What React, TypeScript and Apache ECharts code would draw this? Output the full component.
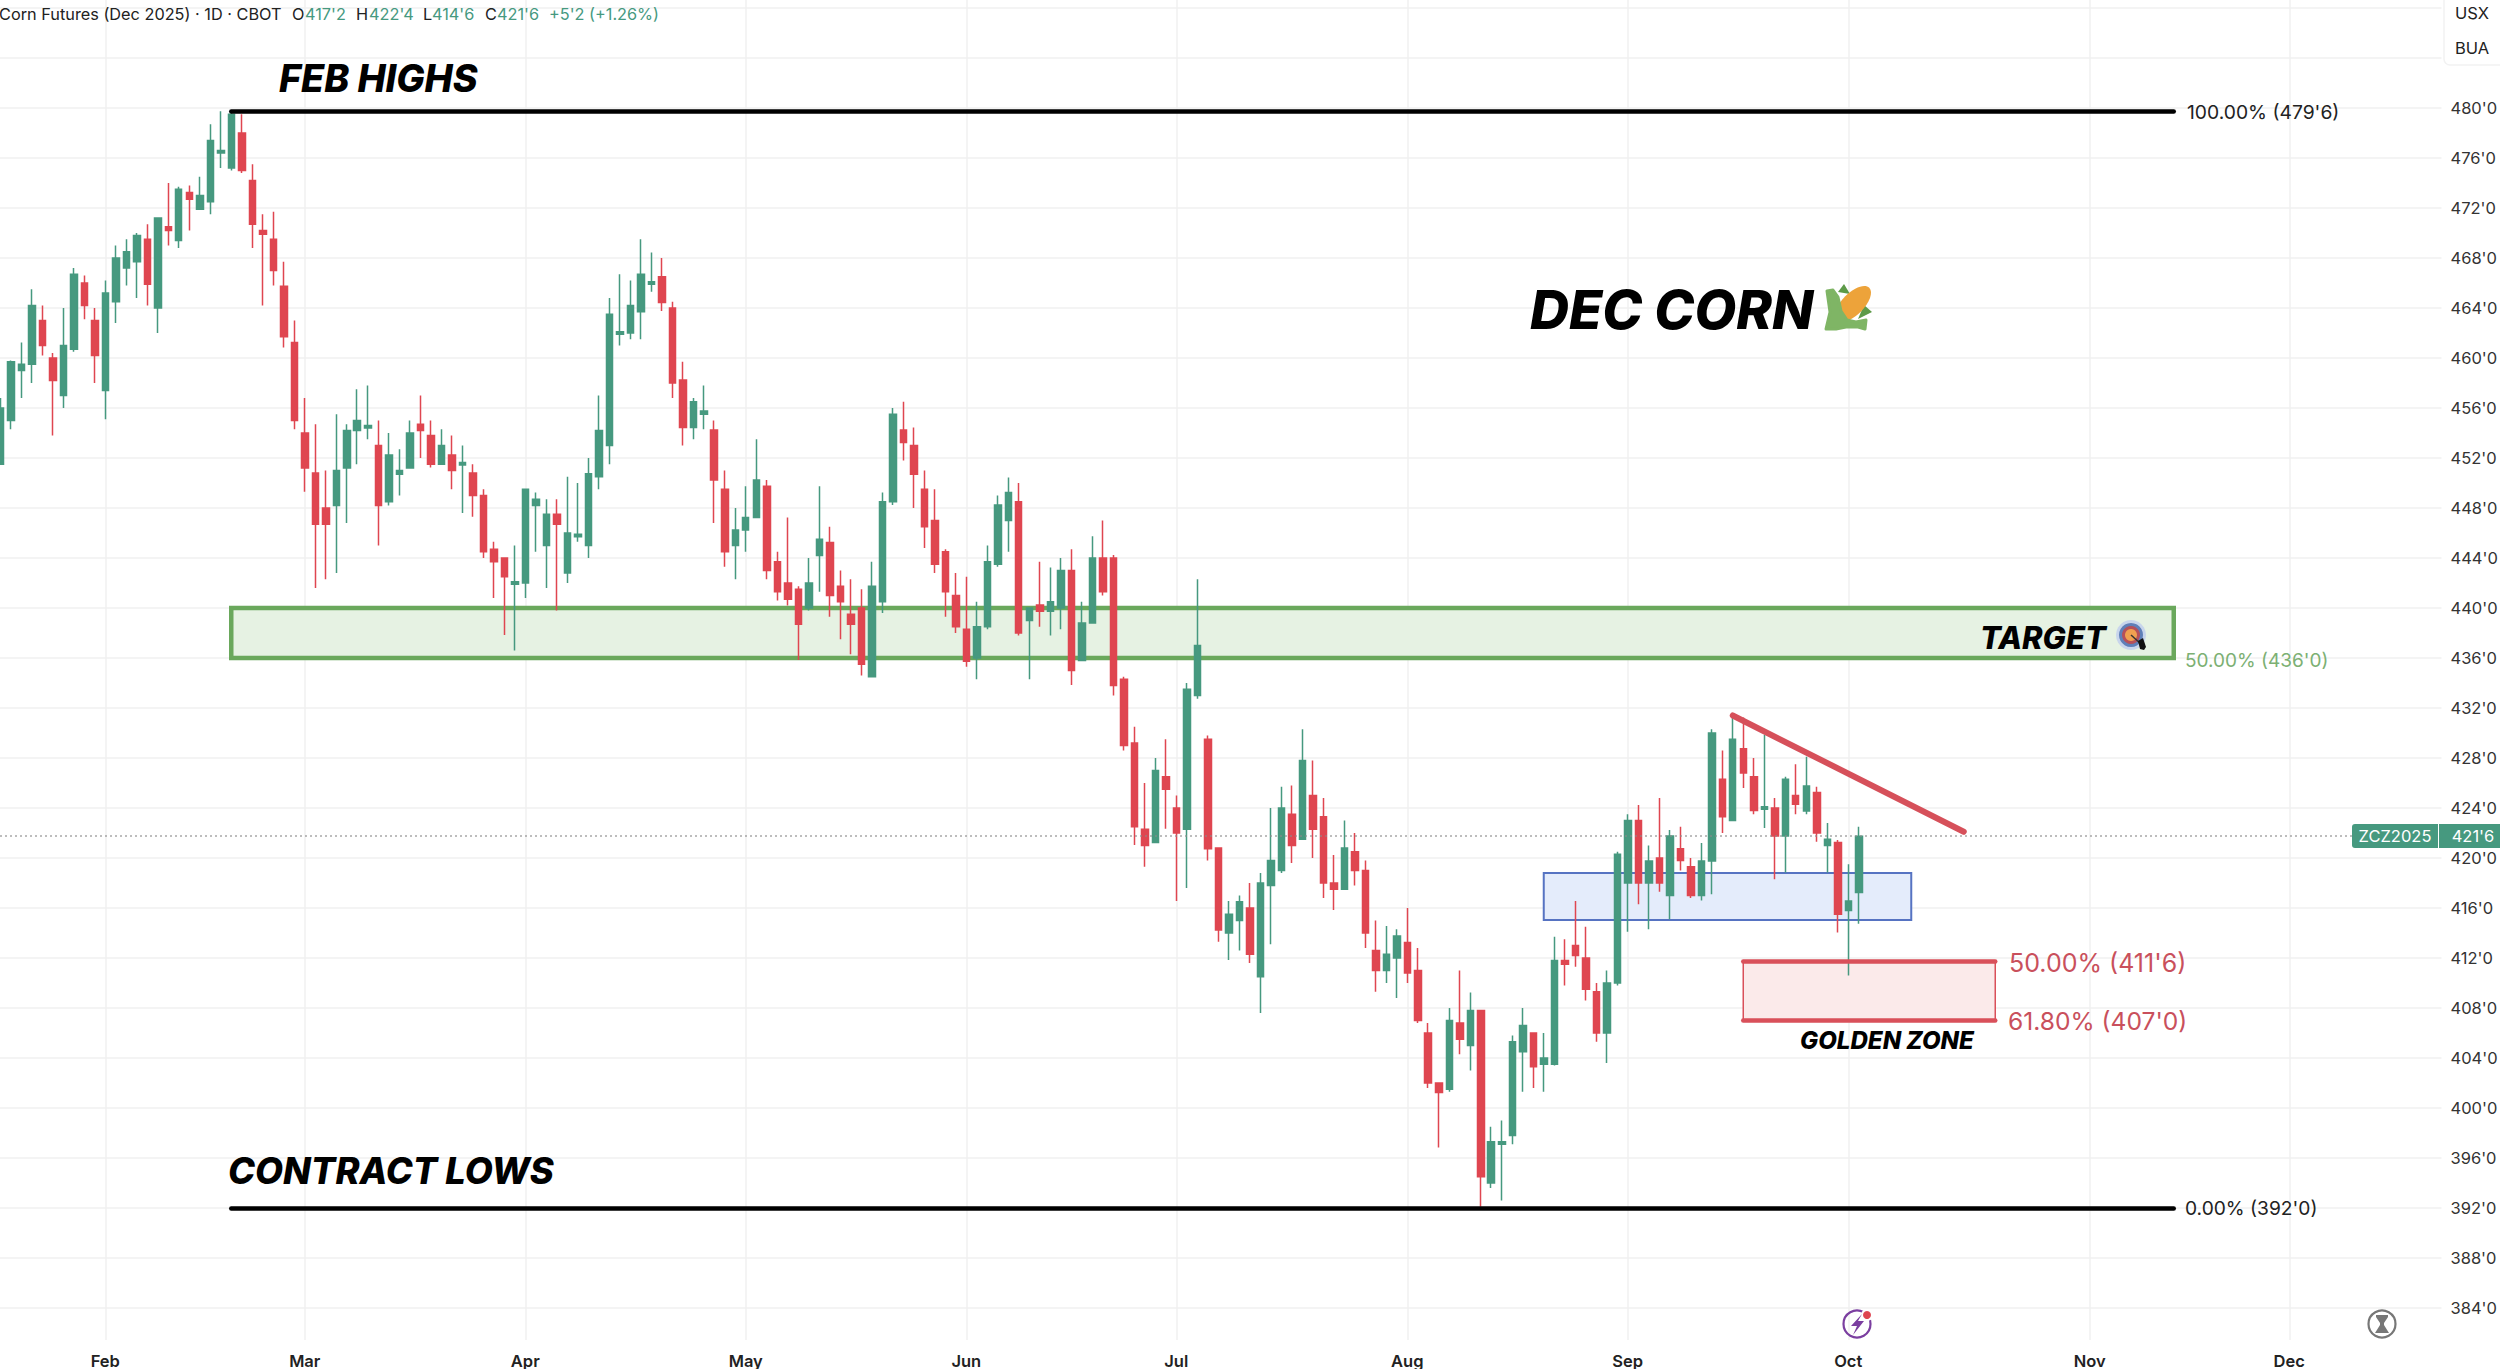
import React, { useEffect, useRef } from "react";
import * as echarts from "echarts";

// Sessions shown per month (Jan is only partly visible)
const monthSessions: [string, number][] = [
  ["Jan", 10], ["Feb", 19], ["Mar", 21], ["Apr", 21], ["May", 21], ["Jun", 20],
  ["Jul", 22], ["Aug", 21], ["Sep", 21], ["Oct", 23], ["Nov", 19], ["Dec", 15],
];
const categories: string[] = monthSessions.flatMap(([m, n]) =>
  Array.from({ length: n }, (_, i) => `${m} ${i + 1}`)
);
const monthStarts = ["Feb 1", "Mar 1", "Apr 1", "May 1", "Jun 1", "Jul 1", "Aug 1", "Sep 1", "Oct 1", "Nov 1", "Dec 1"];

const opens = [
  451.5,455,459,459.5,463,460,457,460.7,466,463,
  457.4,464.5,467.2,467.7,469.5,464,470.5,469.4,473.25,471.9,
  472.5,476.4,475.2,478,474.2,470.2,469.5,465.75,461.25,454,
  450.8,448,448.2,451.2,454.2,454.4,453,448.5,450.7,451.2,
  454.7,453.8,451.5,452.24,451.45,450.8,449,444.7,444,441.9,
  442,448.2,445,447.5,442.8,445.7,445,450.5,453,461.9,
  462,463.7,465.9,466.5,464,458.24,454.45,455.5,454.24,449.5,
  445,446.24,447.24,449.75,443.7,442,441.5,440,444.2,445.25,
  441.75,439.5,440,434.5,440.5,448.5,454.24,453,449.5,447,
  444.5,441,438.3,436,438.5,443.5,447,448.5,439,440.24,
  439.75,440,443,435.8,438.8,444,444,434.3,429.2,422.3,
  421.25,426.5,424,422.3,433,429.5,420.8,414,415,416,
  410.5,417.8,419,423.5,421.5,425,423.3,418,417.5,420.5,
  419,412.6,411,412,413.25,411,406,402,401.5,406.8,
  405,407.8,394,397.1,397.8,404.5,406,403.5,403.5,411.8,
  413,412,409.3,406,410,418,423,418,420,417,
  420.75,419.3,417,419.76,426.3,423,428.75,426.5,423.9,424,
  421.76,425,423.76,425.25,421,421.25,415.8,417.25,
];
const closes = [
  456,459.7,459.5,464.2,461,458.2,461,466.7,464.2,460.2,
  465.2,468,468.5,469.8,465.9,471.2,470.2,473.5,472.7,473,
  477.4,476.6,479.5,475,470.7,469.9,467,461.7,455,451.2,
  446.7,446.7,451,454.2,455,454.6,448.2,452.24,451,454,
  454.2,451.5,453,451,451.65,449,444.5,443.7,442.5,442.1,
  449.5,448.7,447.5,446.7,446,445.9,450.75,454.2,463.5,462.1,
  464.2,466.7,466.1,464.45,458,454.45,456.5,455.76,450.24,444.5,
  446.24,447.24,450.24,443,441.3,440.7,438.7,442,445.5,441,
  440.5,438.7,435.5,441.75,448.5,455.5,453.25,450.7,446.5,443.5,
  441.3,438.5,435.75,438.5,443.7,448.24,449.25,438,440,439.75,
  440.5,443,435,438.8,444,441.3,433.8,429,422.5,421,
  427,425.5,422,433.5,437,420.75,414.24,415.5,416.5,412.3,
  418,419.8,424,421,427.8,422.3,418,417.5,420.8,419,
  414,411,412.3,413.76,410.8,407,402,401.25,407,405.5,
  407.8,394.5,397.3,397.3,405.3,406.6,403.3,404,411.8,411.5,
  412.2,409.5,406,410,420.3,423,418,419.76,418,421.76,
  419.8,417,419.76,430,423.3,429.5,426.8,423.8,424.1,421.76,
  426.3,424.3,425.76,422,421.5,415.5,416.56,421.75,
];
const lows = [
  451.5,454.3,456.8,458,460.2,453.8,456,460.5,463.1,458,
  455.1,462.8,465.8,464.8,464.2,462,469,468.8,470.2,471.9,
  471.5,475.2,475,474.8,468.8,464.2,465.8,460.85,454.3,449.3,
  441.6,442.3,442.8,446.8,451.5,453.5,445,448.2,449,451.2,
  452,451.25,451.5,449.5,447.6,447.3,444,440.8,437.84,436.6,
  440.8,444.5,441.6,439.8,442,445.3,444,449.5,451.5,461,
  461.5,461.5,465.3,463.76,456.8,453,453.5,454.3,446.8,443.3,
  442.3,444.5,447.24,442.3,440.6,440.2,435.84,439.8,441.3,439.3,
  437.5,436.3,434.6,434.5,439.6,448.24,451.8,448,444.8,442.8,
  439.3,438,435.3,434.3,438.3,443.3,444.5,437.8,434.3,438.5,
  437.8,438.3,433.84,435.8,438.8,441,433,428.6,421.04,419.3,
  421.25,422.35,416.56,417.6,432.75,419.8,413.3,411.84,412.6,411.6,
  407.6,413.1,418.8,419.6,421.5,420,416.8,415.84,417.5,417.8,
  412.8,409.3,410,408.8,410,406.8,401.6,396.85,401.3,404.3,
  403,392.1,393.6,392.6,397.1,401.3,401.6,401.3,403.4,409.8,
  411.3,408.6,405.3,403.6,409.8,414.1,416.3,414.3,417.3,415.1,
  419,416.8,416.6,417.1,422,423,425.6,423.5,422.4,418.3,
  418.85,423.5,423.5,421.3,418.85,414.05,410.6,414.75,
];
const highs = [
  456.8,459.8,461.25,465.5,464.2,460.4,464,467.2,466.6,464,
  466.2,469,469.5,470,470.7,471.2,474,473.7,473.8,474.5,
  478.7,479.75,479.75,479.5,475.5,471.5,471.7,467.7,463,456.8,
  454.7,451,455.5,454.7,457.5,457.8,455,454,452.7,455,
  457,455,454.3,453.8,453,451.5,449.5,445.3,444,445,
  449.5,449.25,448.7,448.7,450.5,450,452,457,464.8,466.7,
  466.2,469.5,468.45,468,464.5,459.7,456.8,457.8,455,451,
  448,449.75,453.5,450.24,444.5,447.25,441.75,444,449.75,446.5,
  443,442.3,441.5,443.7,449.25,456,456.5,454.45,451,449.5,
  444.7,442.8,442.5,440.5,445,449,450.45,450,440,443.7,
  443.25,444,444.7,440.5,445.75,447,444.24,434.5,430.5,426,
  428,429.5,425,434,442.3,429.8,420.8,416.56,417,418,
  418.8,424,425.7,425.8,430.3,427.8,424.8,420.24,423,422,
  419.8,415,414.56,414.3,416,412.8,406.8,402,408,411,
  409.25,407.8,398.5,399,405.8,408,406,406,413.7,413.5,
  416.56,414.5,410,411,420.5,423.5,424.24,421,424.8,422.24,
  422.5,420,421.2,430.3,428.6,431.4,431.25,428,429.84,424.8,
  426.5,427.5,428.1,425.7,422.8,421.44,419.5,422.5,
];

const feb100 = 479.75;
const contractLow = 392;
const targetTop = 440;
const targetBottom = 436;
const blueTop = 418.8;
const blueBottom = 415.05;
const goldenTop = 411.75;
const goldenBottom = 407;
const lastPrice = 421.75;
const trendStart = 431.4;
const trendEnd = 422.1;

const GREEN = "#46997f";
const RED = "#df4650";
const FONT = "Inter, 'Noto Sans', sans-serif";

const txt = (text: string, x: number, y: number, fontSize: number, fill: string, extra: any = {}) => ({
  type: "text",
  x,
  y,
  z: 50,
  silent: true,
  style: {
    text,
    fill,
    fontFamily: FONT,
    fontSize,
    fontWeight: extra.weight || 400,
    fontStyle: extra.italic ? "italic" : "normal",
    textAlign: extra.align || "left",
    textVerticalAlign: "middle",
  },
});
const poly = (points: number[][], fill: string, rounded = false) => ({
  type: "polygon",
  z: 50,
  silent: true,
  shape: { points },
  style: rounded ? { fill, stroke: fill, lineWidth: 3, lineJoin: "round" } : { fill },
});
const circ = (cx: number, cy: number, r: number, style: any) => ({
  type: "circle",
  z: 50,
  silent: true,
  shape: { cx, cy, r },
  style,
});

const headerTexts: [string, number, string][] = [
  ["Corn Futures (Dec 2025) · 1D · CBOT", -1, "#222222"],
  ["O", 292, "#222222"], ["417'2", 305, GREEN],
  ["H", 356, "#222222"], ["422'4", 369, GREEN],
  ["L", 423, "#222222"], ["414'6", 432, GREEN],
  ["C", 485, "#222222"], ["421'6", 497, GREEN],
  ["+5'2 (+1.26%)", 549, GREEN],
];

export default function App() {
  const ref = useRef<HTMLDivElement>(null);
  useEffect(() => {
    const chart = echarts.init(ref.current!, undefined, { renderer: "svg" });
    const candleData = opens.map((o, i) => [o, closes[i], lows[i], highs[i]]);
    const bandWidth = 10.5;
    const gridLeft = -5;
    const gridWidth = bandWidth * categories.length;

    const lineStyle = (color: string, width: number, cap = "butt") => ({
      color, width, type: "solid", cap, opacity: 1,
    });
    const hLine = (from: number, to: number, v: number, color: string, width: number) => [
      { xAxis: from, yAxis: v, lineStyle: lineStyle(color, width, "round") },
      { xAxis: to, yAxis: v },
    ];

    chart.setOption({
      animation: false,
      backgroundColor: "#ffffff",
      textStyle: { fontFamily: FONT },
      grid: [
        { left: gridLeft, width: gridWidth, top: 8, height: 1300, outerBoundsMode: "none" },
        { left: gridLeft, width: gridWidth, top: 0, height: 1340, outerBoundsMode: "none" },
      ],
      xAxis: [
        { type: "category", gridIndex: 0, data: categories, show: false },
        {
          type: "category",
          gridIndex: 1,
          data: categories,
          axisLine: { show: false },
          axisTick: { show: false },
          splitLine: { show: false },
          axisLabel: {
            show: true,
            margin: 12,
            fontSize: 16.5,
            fontWeight: 600,
            color: "#222222",
            fontFamily: FONT,
            interval: (_i: number, v: string) => monthStarts.includes(v),
            formatter: (v: string) => v.split(" ")[0],
          },
        },
      ],
      yAxis: [
        {
          type: "value",
          gridIndex: 0,
          position: "right",
          min: 384,
          max: 488,
          interval: 4,
          axisLine: { show: false },
          axisTick: { show: false },
          splitLine: { show: true, lineStyle: { color: "#f1f1f1", width: 1.5 } },
          axisLabel: {
            margin: 9,
            fontSize: 16.5,
            color: "#333333",
            fontFamily: FONT,
            formatter: (v: number) => (v > 480 ? "" : `${v}'0`),
          },
        },
        { type: "value", gridIndex: 1, min: 0, max: 1, show: false },
      ],
      series: [
        {
          type: "line",
          name: "months",
          xAxisIndex: 1,
          yAxisIndex: 1,
          data: [],
          z: 0,
          silent: true,
          markLine: {
            silent: true,
            symbol: "none",
            z: 0,
            label: { show: false },
            lineStyle: { color: "#f1f1f1", width: 1.5, type: "solid" },
            data: monthStarts.map((m) => ({ xAxis: m })),
          },
        },
        {
          type: "line",
          name: "zones",
          xAxisIndex: 0,
          yAxisIndex: 0,
          data: [],
          z: 1,
          silent: true,
          markArea: {
            silent: true,
            z: 1,
            label: { show: false },
            data: [
              [
                { xAxis: 22, yAxis: targetTop, itemStyle: { color: "#e6f2e3", borderColor: "#6aa85c", borderWidth: 4.5, opacity: 1 } },
                { xAxis: 207, yAxis: targetBottom },
              ],
              [
                { xAxis: 147, yAxis: blueTop, itemStyle: { color: "#e4ecfb", borderColor: "#5673c2", borderWidth: 2, opacity: 1 } },
                { xAxis: 182, yAxis: blueBottom },
              ],
              [
                { xAxis: 166, yAxis: goldenTop, itemStyle: { color: "#fbeaea", borderColor: "#d9505a", borderWidth: 1.5, opacity: 1 } },
                { xAxis: 190, yAxis: goldenBottom },
              ],
            ],
          },
        },
        {
          type: "candlestick",
          name: "ZCZ2025",
          xAxisIndex: 0,
          yAxisIndex: 0,
          z: 2,
          barWidth: 7,
          data: candleData,
          itemStyle: {
            color: GREEN,
            color0: RED,
            borderColor: GREEN,
            borderColor0: RED,
            borderWidth: 1.5,
          },
          markLine: {
            silent: true,
            symbol: "none",
            z: 5,
            animation: false,
            label: { show: false },
            data: [
              hLine(22, 207, feb100, "#000000", 4.5),
              hLine(22, 207, contractLow, "#000000", 4.5),
              hLine(166, 190, goldenTop, "#d9505a", 4.5),
              hLine(166, 190, goldenBottom, "#d9505a", 4.5),
              [
                { xAxis: 165, yAxis: trendStart, lineStyle: lineStyle("#d6505a", 6, "round") },
                { xAxis: 187, yAxis: trendEnd },
              ],
              [
                { xAxis: 0, yAxis: lastPrice, lineStyle: { color: "#8a8a8a", width: 1.5, type: [1.5, 3.5], opacity: 1 } },
                { xAxis: 224, yAxis: lastPrice },
              ],
            ],
          },
        },
      ],
      graphic: [
        ...headerTexts.map(([t, x, c]) => txt(t, x, 14, 16.3, c)),
        {
          type: "rect", z: 49, silent: true,
          shape: { x: 2444, y: -6, width: 70, height: 71, r: 6 },
          style: { fill: "#ffffff", stroke: "#f2f2f2", lineWidth: 1.5 },
        },
        txt("USX", 2472, 13, 16.5, "#222222", { align: "center" }),
        txt("BUA", 2472, 48, 16.5, "#222222", { align: "center" }),

        txt("FEB HIGHS", 279, 78, 37.6, "#000000", { italic: true, weight: 800 }),
        txt("CONTRACT LOWS", 228, 1171, 36.3, "#000000", { italic: true, weight: 800 }),
        txt("DEC CORN", 1530, 309, 54, "#000000", { italic: true, weight: 800 }),
        txt("TARGET", 1980, 637, 31, "#000000", { italic: true, weight: 800 }),
        txt("GOLDEN ZONE", 1800, 1040, 24.1, "#000000", { italic: true, weight: 800 }),

        txt("100.00% (479'6)", 2187, 112, 19.3, "#222222"),
        txt("0.00% (392'0)", 2185, 1208, 19.2, "#222222"),
        txt("50.00% (436'0)", 2185, 660, 19, "#7cb073"),
        txt("50.00% (411'6)", 2009, 963, 25, "#c9505c"),
        txt("61.80% (407'0)", 2008, 1021, 24.6, "#c9505c"),

        // last price tag
        { type: "rect", z: 49, silent: true, shape: { x: 2352, y: 824, width: 86, height: 24, r: [3, 0, 0, 3] }, style: { fill: GREEN } },
        { type: "rect", z: 49, silent: true, shape: { x: 2439, y: 824, width: 61, height: 24 }, style: { fill: GREEN } },
        txt("ZCZ2025", 2395, 836, 16.5, "#ffffff", { align: "center" }),
        txt("421'6", 2473, 836, 16.5, "#ffffff", { align: "center" }),

        // corn emoji
        poly([[1838, 292], [1844, 284], [1850, 294]], "#5d9a48"),
        poly([[1858, 319], [1872, 312], [1864, 305]], "#5d9a48"),
        {
          type: "ellipse", z: 50, silent: true, x: 1853, y: 304, rotation: Math.PI / 4,
          shape: { cx: 0, cy: 0, rx: 23, ry: 11 }, style: { fill: "#eda33a" },
        },
        poly([[1827, 291], [1833, 290], [1838, 297], [1841, 311], [1847, 320], [1856, 322], [1866, 320], [1865, 329], [1858, 327], [1846, 327], [1836, 329], [1826, 329], [1830, 312]], "#7fb565", true),

        // target emoji
        circ(2131, 635, 15, { fill: "#c8d5ec" }),
        circ(2131, 635, 12, { fill: "#5f7fb8" }),
        circ(2131, 635, 9, { fill: "#b5505a" }),
        circ(2131, 635, 6, { fill: "#f0a050" }),
        { type: "line", z: 50, silent: true, shape: { x1: 2131, y1: 635, x2: 2141, y2: 644 }, style: { stroke: "#333333", lineWidth: 1.5 } },
        poly([[2138, 641], [2143, 638], [2146, 647], [2144, 650], [2140, 649]], "#111111"),

        // bottom badges
        circ(1857, 1324, 13.5, { fill: "none", stroke: "#7b3fa0", lineWidth: 2.2 }),
        circ(1867, 1315, 6, { fill: "#ffffff" }),
        circ(1867, 1315, 4, { fill: "#de4550" }),
        poly([[1862, 1314], [1851, 1326], [1857, 1326], [1853, 1335], [1864, 1321], [1858, 1321]], "#7b3fa0"),
        circ(2382, 1324, 13.5, { fill: "none", stroke: "#777777", lineWidth: 2.2 }),
        poly([[2376, 1315], [2388, 1315], [2388, 1317], [2384, 1323], [2384, 1325], [2389, 1333], [2375, 1333], [2380, 1325], [2380, 1323], [2376, 1317]], "#777777"),
      ],
    });
    return () => chart.dispose();
  }, []);
  return (
    <div
      ref={ref}
      style={{ position: "absolute", left: 0, top: 0, width: 2500, height: 1369, background: "#ffffff" }}
    />
  );
}
